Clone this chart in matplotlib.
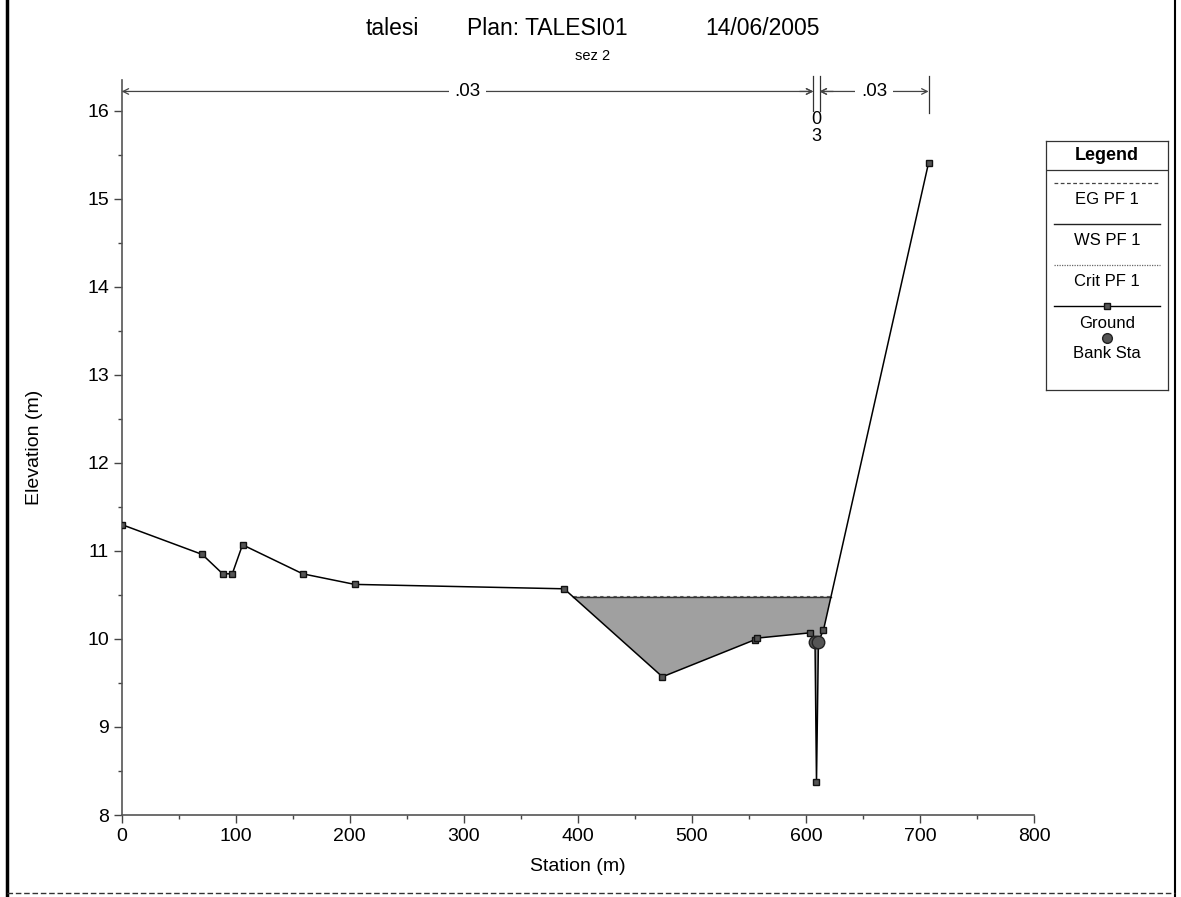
import matplotlib.pyplot as plt
import numpy as np
from matplotlib.lines import Line2D

plt.rcParams['font.family'] = ['Liberation Sans', 'DejaVu Sans']

# ground profile (station m, elevation m)
station = [0, 70.7, 88.6, 97, 106, 158.8, 204.4, 388, 474.2, 555, 557.5,
           604, 608.0, 609.3, 611.0, 615.4, 707.6]
elevation = [11.30, 10.96, 10.74, 10.74, 11.07, 10.74, 10.62, 10.57, 9.57,
             9.99, 10.01, 10.07, 9.97, 8.37, 9.97, 10.10, 15.41]

# bank stations
bank_sta = [608.0, 611.0]
bank_elev = [9.97, 9.97]

# profile results
ws_pf1 = 10.48
eg_pf1 = 10.49

# manning's n breaks and values
n_breaks = [0, 606.5, 612.0, 707.6]
n_labels = ['.03', '0\n3', '.03']

title_parts = ['talesi', 'Plan: TALESI01', '14/06/2005']
subtitle = 'sez 2'

st = np.array(station)
el = np.array(elevation)

fig = plt.figure(figsize=(11.81, 8.97), dpi=100)
ax = fig.add_axes([0.103, 0.0914, 0.7725, 0.8194])

# wetted area
wet = el < ws_pf1
ax.fill_between(st, el, ws_pf1, where=wet, interpolate=True,
                facecolor='#a0a0a0', edgecolor='none', zorder=1)

# water surface and energy grade across the wetted width
xs = []
for i in range(len(st) - 1):
    if (el[i] - ws_pf1) * (el[i + 1] - ws_pf1) < 0:
        xs.append(st[i] + (ws_pf1 - el[i]) * (st[i + 1] - st[i]) / (el[i + 1] - el[i]))
x_left, x_right = xs[0], xs[-1]
ax.plot([x_left, x_right], [ws_pf1, ws_pf1], color='#333333', lw=1.0, zorder=2)
ax.plot([x_left, x_right], [eg_pf1, eg_pf1], color='#555555', lw=0.8,
        ls=(0, (3, 3)), zorder=2)

# ground
ax.plot(st, el, color='black', lw=1.1, marker='s', markersize=5,
        markerfacecolor='#555555', markeredgecolor='#111111', zorder=3)
ax.plot(bank_sta, bank_elev, ls='none', marker='o', markersize=9,
        markerfacecolor='#555555', markeredgecolor='#222222', zorder=4)

ax.set_xlim(0, 800)
ax.set_ylim(8, 16.35)
ax.set_xticks(np.arange(0, 801, 100))
ax.set_xticks(np.arange(0, 801, 50), minor=True)
ax.set_yticks(np.arange(8, 17, 1))
ax.set_yticks(np.arange(8, 16.3, 0.5), minor=True)
ax.tick_params(axis='both', which='major', length=6, width=1, color='#444444',
               labelsize=14, pad=3)
ax.tick_params(axis='both', which='minor', length=3, width=1, color='#444444')
for side in ['top', 'right']:
    ax.spines[side].set_visible(False)
for side in ['left', 'bottom']:
    ax.spines[side].set_color('#555555')
    ax.spines[side].set_linewidth(1.2)

ax.set_xlabel('Station (m)', fontsize=14, labelpad=10)
ax.set_ylabel('Elevation (m)', fontsize=14, labelpad=32)

fig.text(392 / 1181, 0.968, title_parts[0], ha='center', va='center', fontsize=16.5)
fig.text(467 / 1181, 0.968, title_parts[1], ha='left', va='center', fontsize=16.5)
fig.text(820 / 1181, 0.968, title_parts[2], ha='right', va='center', fontsize=16.5)
fig.text(0.502, 0.938, subtitle, ha='center', va='center', fontsize=10.5)

# manning's n bar along the top
y_n = 16.22
arrow = dict(arrowstyle='->', color='#444444', lw=0.9, shrinkA=0, shrinkB=0)
for i, lab in enumerate(n_labels):
    a, b = n_breaks[i], n_breaks[i + 1]
    mid = (a + b) / 2
    if b - a < 20:
        ax.text(mid, y_n - 0.22, lab, ha='center', va='top', fontsize=13,
                linespacing=1.0, clip_on=False)
        ax.annotate('', xy=(a, y_n), xytext=(a - 12, y_n), arrowprops=arrow,
                    annotation_clip=False)
        ax.annotate('', xy=(b, y_n), xytext=(b + 12, y_n), arrowprops=arrow,
                    annotation_clip=False)
        continue
    ax.text(mid, y_n, lab, ha='center', va='center', fontsize=13.5,
            bbox=dict(facecolor='white', edgecolor='none', pad=4), zorder=6,
            clip_on=False)
    ax.annotate('', xy=(a, y_n), xytext=(mid, y_n), arrowprops=arrow,
                annotation_clip=False, zorder=5)
    ax.annotate('', xy=(b, y_n), xytext=(mid, y_n), arrowprops=arrow,
                annotation_clip=False, zorder=5)
for xb in n_breaks[1:3]:
    ax.plot([xb, xb], [y_n - 0.22, y_n + 0.18], color='#333333', lw=0.9,
            clip_on=False)
ax.plot([n_breaks[-1]] * 2, [y_n - 0.25, y_n + 0.18], color='#333333', lw=0.9,
        clip_on=False)

# legend panel
lg = fig.add_axes([1046 / 1181, 1 - 390 / 897, 122 / 1181, 249 / 897])
lg.set_xlim(0, 122)
lg.set_ylim(249, 0)
lg.set_xticks([])
lg.set_yticks([])
for s in lg.spines.values():
    s.set_linewidth(0.9)
    s.set_color('#333333')
lg.plot([0, 122], [29, 29], color='#333333', lw=0.9)
lg.text(61, 15, 'Legend', ha='center', va='center', fontsize=13,
        fontweight='bold')
entries = [
    ('EG PF 1', dict(color='#444444', lw=0.9, ls=(0, (3, 2)))),
    ('WS PF 1', dict(color='#222222', lw=1.0)),
    ('Crit PF 1', dict(color='#666666', lw=0.9, ls=(0, (1, 1)))),
    ('Ground', dict(color='black', lw=1.0, marker='s', markersize=5,
                    markerfacecolor='#555555', markeredgecolor='#111111',
                    markevery=[1])),
]
y0 = 42
for lab, style in entries:
    lg.add_line(Line2D([8, 61, 114], [y0, y0, y0], **style))
    lg.text(61, y0 + 17, lab, ha='center', va='center', fontsize=12)
    y0 += 41
lg.plot([61], [197], ls='none', marker='o', markersize=7,
        markerfacecolor='#555555', markeredgecolor='#222222')
lg.text(61, 212, 'Bank Sta', ha='center', va='center', fontsize=12)

# page border
fig.add_artist(Line2D([7 / 1181, 7 / 1181], [0, 1], color='black', lw=2.5))
fig.add_artist(Line2D([1175 / 1181, 1175 / 1181], [0, 1], color='black', lw=1.5))
fig.add_artist(Line2D([7 / 1181, 1175 / 1181], [4 / 897, 4 / 897],
                      color='#333333', lw=1.0, ls=(0, (4, 2))))

fig.savefig('out.png', dpi=100)
